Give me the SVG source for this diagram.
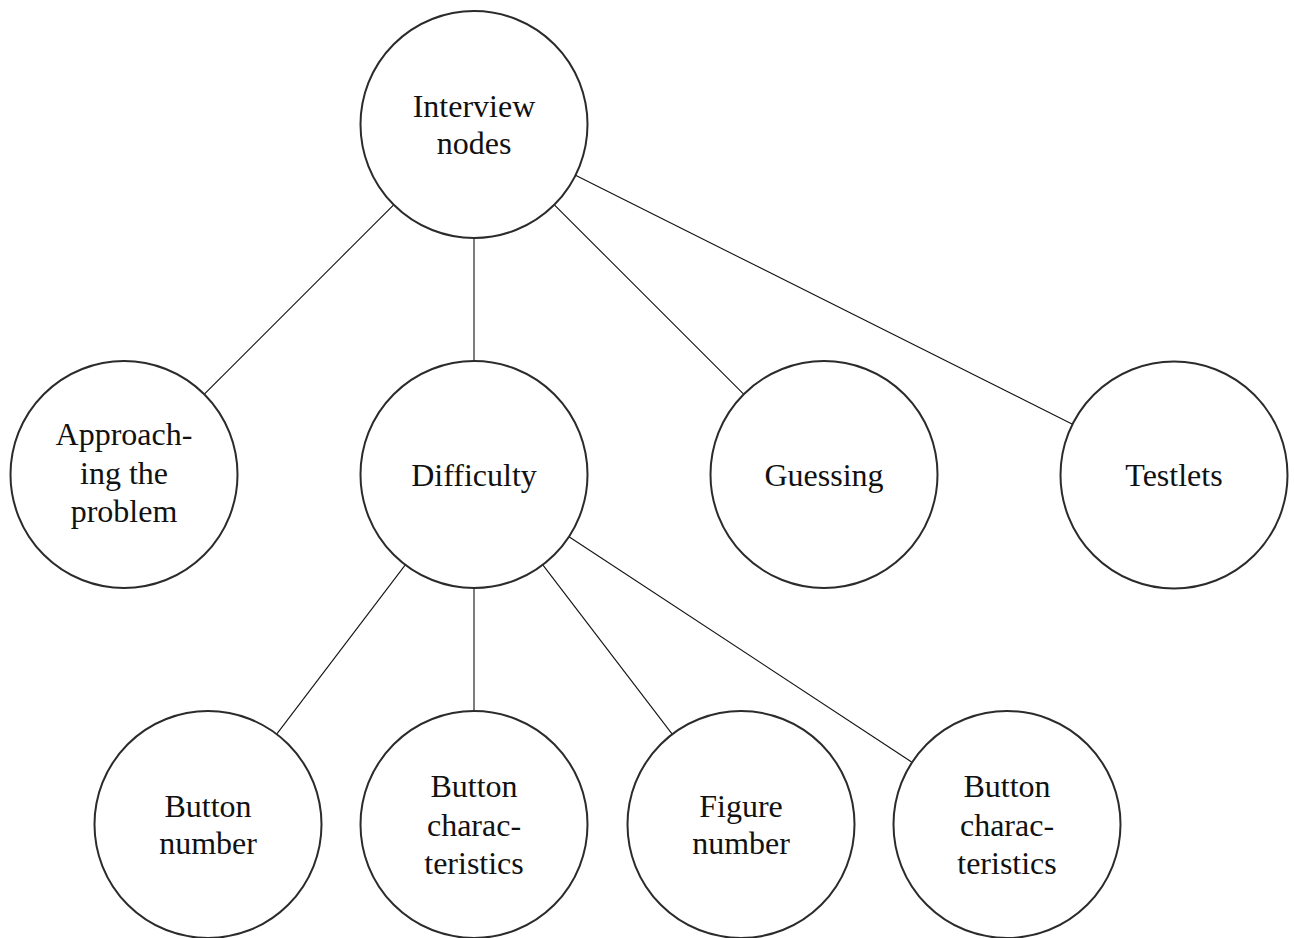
<svg xmlns="http://www.w3.org/2000/svg" width="1294" height="938" viewBox="0 0 1294 938">
  <style>
    .node circle { fill: #ffffff; stroke: #2b2b2b; stroke-width: 2; }
    .node text { font-family: 'Liberation Serif', 'DejaVu Serif', serif; font-size: 32px; fill: #111111; text-anchor: middle; }
    .edges line { stroke: #111111; stroke-width: 1.1; }
  </style>
  <rect width="1294" height="938" fill="#ffffff"/>

  <!-- tree connectors, drawn rim to rim -->
  <g id="edges" class="edges">
    <line x1="393.4" y1="205.1" x2="204.6" y2="393.9"/>
    <line x1="474" y1="238" x2="474" y2="361"/>
    <line x1="554.6" y1="205.1" x2="743.4" y2="393.9"/>
    <line x1="575.5" y1="175.3" x2="1072.5" y2="424.2"/>
    <line x1="405.3" y1="564.8" x2="276.7" y2="734.2"/>
    <line x1="474" y1="588" x2="474" y2="711"/>
    <line x1="542.8" y1="564.8" x2="672.2" y2="734.2"/>
    <line x1="569" y1="536.8" x2="912" y2="762.2"/>
  </g>

  <g id="node-interview" class="node">
    <circle cx="474" cy="124.5" r="113.5"/>
    <text x="474" y="117">Interview</text>
    <text x="474" y="154">nodes</text>
  </g>

  <g id="node-approaching" class="node">
    <circle cx="124" cy="474.5" r="113.5"/>
    <text x="124" y="445">Approach-</text>
    <text x="124" y="483.5">ing the</text>
    <text x="124" y="522">problem</text>
  </g>

  <g id="node-difficulty" class="node">
    <circle cx="474" cy="474.5" r="113.5"/>
    <text x="474" y="485.5">Difficulty</text>
  </g>

  <g id="node-guessing" class="node">
    <circle cx="824" cy="474.5" r="113.5"/>
    <text x="824" y="485.5">Guessing</text>
  </g>

  <g id="node-testlets" class="node">
    <circle cx="1174" cy="475" r="113.5"/>
    <text x="1174" y="486">Testlets</text>
  </g>

  <g id="node-button-number" class="node">
    <circle cx="208" cy="824.5" r="113.5"/>
    <text x="208" y="817">Button</text>
    <text x="208" y="854">number</text>
  </g>

  <g id="node-button-characteristics-1" class="node">
    <circle cx="474" cy="824.5" r="113.5"/>
    <text x="474" y="797">Button</text>
    <text x="474" y="835.5">charac-</text>
    <text x="474" y="874">teristics</text>
  </g>

  <g id="node-figure-number" class="node">
    <circle cx="741" cy="824.5" r="113.5"/>
    <text x="741" y="817">Figure</text>
    <text x="741" y="854">number</text>
  </g>

  <g id="node-button-characteristics-2" class="node">
    <circle cx="1007" cy="824.5" r="113.5"/>
    <text x="1007" y="797">Button</text>
    <text x="1007" y="835.5">charac-</text>
    <text x="1007" y="874">teristics</text>
  </g>
</svg>
